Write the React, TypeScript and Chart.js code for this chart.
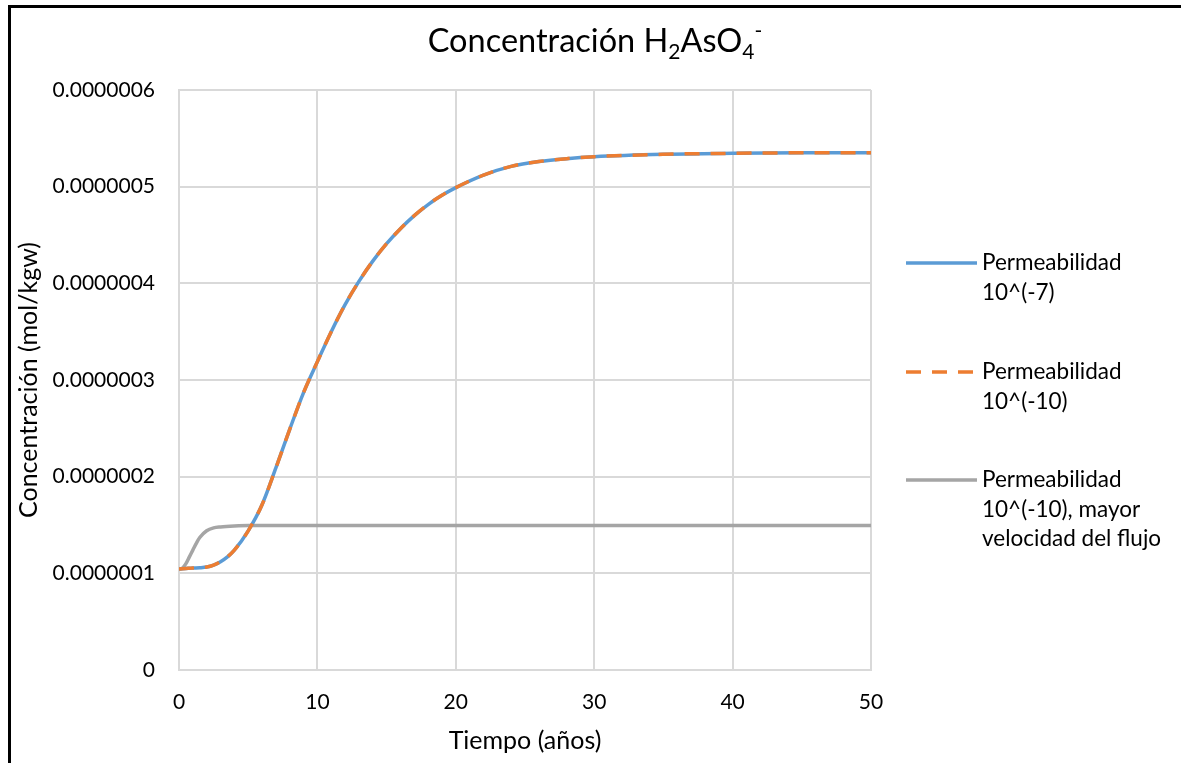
import React, { useEffect, useRef } from 'react';
import { Chart, registerables } from 'chart.js';
Chart.register(...registerables);

const chartTitle = ['Concentración H', '2', 'AsO', '4', '-'];
const xAxisTitle = 'Tiempo (años)';
const yAxisTitle = 'Concentración (mol/kgw)';
const seriesNames = [
  ['Permeabilidad', '10^(-7)'],
  ['Permeabilidad', '10^(-10)'],
  ['Permeabilidad', '10^(-10), mayor', 'velocidad del flujo'],
];

const timeMain = [0, 0.5, 1, 1.5, 2, 2.5, 3, 3.5, 4, 5, 6, 7, 8, 9, 10, 11, 12, 13, 14, 15, 16, 17, 18, 19, 20, 22, 24, 26, 28, 30, 35, 40, 45, 50];
const perm7 = [1.045e-7, 1.05e-7, 1.055e-7, 1.058e-7, 1.065e-7, 1.085e-7, 1.12e-7, 1.17e-7, 1.24e-7, 1.44e-7, 1.71e-7, 2.09e-7, 2.49e-7, 2.87e-7, 3.19e-7, 3.50e-7, 3.78e-7, 4.02e-7, 4.23e-7, 4.41e-7, 4.565e-7, 4.70e-7, 4.815e-7, 4.91e-7, 4.99e-7, 5.12e-7, 5.21e-7, 5.26e-7, 5.29e-7, 5.31e-7, 5.335e-7, 5.345e-7, 5.35e-7, 5.35e-7];
const perm10 = [1.045e-7, 1.05e-7, 1.055e-7, 1.058e-7, 1.065e-7, 1.085e-7, 1.12e-7, 1.17e-7, 1.24e-7, 1.44e-7, 1.71e-7, 2.09e-7, 2.49e-7, 2.87e-7, 3.19e-7, 3.50e-7, 3.78e-7, 4.02e-7, 4.23e-7, 4.41e-7, 4.565e-7, 4.70e-7, 4.815e-7, 4.91e-7, 4.99e-7, 5.12e-7, 5.21e-7, 5.26e-7, 5.29e-7, 5.31e-7, 5.335e-7, 5.345e-7, 5.35e-7, 5.35e-7];
const timeFast = [0, 0.25, 0.5, 0.75, 1, 1.25, 1.5, 2, 2.5, 3, 4, 5, 10, 20, 30, 40, 50];
const perm10Fast = [1.045e-7, 1.055e-7, 1.10e-7, 1.17e-7, 1.24e-7, 1.31e-7, 1.37e-7, 1.44e-7, 1.47e-7, 1.48e-7, 1.49e-7, 1.495e-7, 1.495e-7, 1.495e-7, 1.495e-7, 1.495e-7, 1.495e-7];

const colors = ['#5B9BD5', '#ED7D31', '#A5A5A5'];
const FONT = 'Lato';

const toPoints = (xs: number[], ys: number[]) => xs.map((x, i) => ({ x, y: ys[i] }));

const overlayPlugin = {
  id: 'overlay',
  afterDraw(chart: any) {
    const ctx = chart.ctx;
    ctx.save();
    const big = 32.5, small = 21;
    const parts = [
      { t: chartTitle[0], s: big, dy: 0 },
      { t: chartTitle[1], s: small, dy: 7 },
      { t: chartTitle[2], s: big, dy: 0 },
      { t: chartTitle[3], s: small, dy: 7 },
      { t: chartTitle[4], s: small, dy: -14 },
    ];
    let total = 0;
    const widths: number[] = [];
    parts.forEach((p) => {
      ctx.font = `${p.s}px ${FONT}`;
      const w = ctx.measureText(p.t).width;
      widths.push(w);
      total += w;
    });
    let x = 595 - total / 2;
    ctx.fillStyle = '#000';
    ctx.textBaseline = 'alphabetic';
    ctx.textAlign = 'left';
    parts.forEach((p, i) => {
      ctx.font = `${p.s}px ${FONT}`;
      ctx.fillText(p.t, x, 52 + p.dy);
      x += widths[i];
    });
    const legendY = [263, 372, 480];
    ctx.font = `22.5px ${FONT}`;
    ctx.textBaseline = 'middle';
    seriesNames.forEach((lines, i) => {
      const y = legendY[i];
      ctx.beginPath();
      ctx.strokeStyle = colors[i];
      ctx.lineWidth = 3.5;
      ctx.lineCap = 'butt';
      ctx.setLineDash(i === 1 ? [15, 11] : []);
      ctx.moveTo(906, y);
      ctx.lineTo(977, y);
      ctx.stroke();
      ctx.setLineDash([]);
      ctx.fillStyle = '#000';
      lines.forEach((ln, j) => ctx.fillText(ln, 982, y + j * 29.5));
    });
    ctx.restore();
  },
};

export default function App() {
  const ref = useRef<HTMLCanvasElement>(null);
  useEffect(() => {
    if (!ref.current) return;
    const chart = new Chart(ref.current, {
      type: 'line',
      data: {
        datasets: [
          {
            label: seriesNames[0].join(' '),
            data: toPoints(timeMain, perm7),
            borderColor: colors[0],
            borderWidth: 3.5,
            pointRadius: 0,
            cubicInterpolationMode: 'monotone',
            order: 1,
          },
          {
            label: seriesNames[1].join(' '),
            data: toPoints(timeMain, perm10),
            borderColor: colors[1],
            borderWidth: 3.5,
            borderDash: [15, 11],
            pointRadius: 0,
            cubicInterpolationMode: 'monotone',
            order: 0,
          },
          {
            label: seriesNames[2].join(' '),
            data: toPoints(timeFast, perm10Fast),
            borderColor: colors[2],
            borderWidth: 3.5,
            pointRadius: 0,
            cubicInterpolationMode: 'monotone',
            order: 2,
          },
        ],
      },
      options: {
        responsive: false,
        animation: false,
        devicePixelRatio: 1,
        layout: { padding: { left: 0, top: 90, right: 310, bottom: 0 } },
        plugins: { legend: { display: false }, title: { display: false }, tooltip: { enabled: false } },
        scales: {
          x: {
            type: 'linear',
            min: 0,
            max: 50,
            ticks: { stepSize: 10, color: '#000', font: { family: FONT, size: 21 }, padding: 20 },
            grid: { color: '#d9d9d9', lineWidth: 2, drawTicks: false },
            border: { color: '#d9d9d9', width: 2 },
            title: { display: true, text: xAxisTitle, color: '#000', font: { family: FONT, size: 25 }, padding: { top: 7, bottom: 7 } },
            afterFit: (s: any) => { s.height = 93; },
          },
          y: {
            min: 0,
            max: 6e-7,
            ticks: {
              stepSize: 1e-7,
              color: '#000',
              font: { family: FONT, size: 21 },
              padding: 24,
              callback: (v: any) => (Math.abs(v) < 1e-12 ? '0' : Number(v).toFixed(7)),
            },
            grid: { color: '#d9d9d9', lineWidth: 2, drawTicks: false },
            border: { color: '#d9d9d9', width: 2 },
            title: { display: true, text: yAxisTitle, color: '#000', font: { family: FONT, size: 25 }, padding: { top: 14, bottom: 14 } },
            afterFit: (s: any) => { s.width = 179; },
          },
        },
      },
      plugins: [overlayPlugin],
    } as any);
    return () => chart.destroy();
  }, []);
  return (
    <div style={{ position: 'fixed', left: 0, top: 0, width: 1181, height: 763, overflow: 'hidden', background: '#fff' }}>
      <canvas ref={ref} width={1181} height={763} style={{ position: 'absolute', left: 0, top: 0 }} />
      <div style={{ position: 'absolute', left: 8, top: 5, width: 1300, height: 900, border: '3px solid #000', boxSizing: 'border-box', pointerEvents: 'none' }} />
    </div>
  );
}
